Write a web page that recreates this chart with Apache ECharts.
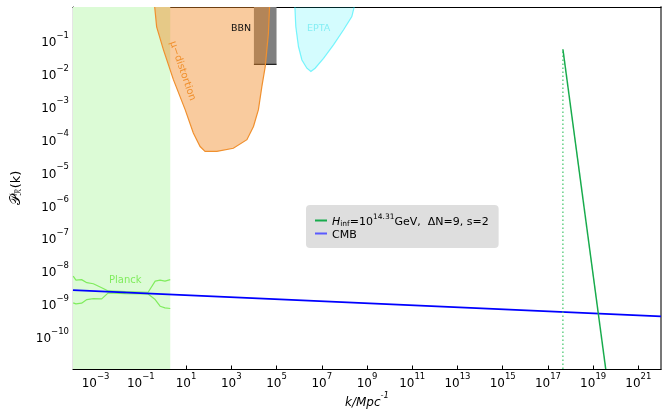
<!DOCTYPE html>
<html>
<head>
<meta charset="utf-8">
<script src="https://cdn.jsdelivr.net/npm/echarts@6/dist/echarts.min.js"></script>
<style>
  html, body { margin: 0; padding: 0; background: #fff; }
  #chart { width: 670px; height: 411px; }
</style>
</head>
<body>
<div id="chart"></div>
<script>
// tick positions (decades)
var xTicks = [1e-3, 1e-1, 1e1, 1e3, 1e5, 1e7, 1e9, 1e11, 1e13, 1e15, 1e17, 1e19, 1e21];
var yTicks = [1e-10, 1e-9, 1e-8, 1e-7, 1e-6, 1e-5, 1e-4, 1e-3, 1e-2, 1e-1];

// CMB power spectrum
var cmbK = [1e-4, 1e22];
var cmbP = [2.5e-9, 4.0e-10];

// model curve, H_inf = 10^14.31 GeV
var modelK = [4.6e17, 3.6e19];
var modelP = [0.052, 1e-11];
var cutK = [4.6e17, 4.6e17];
var cutP = [1e-11, 0.052];

// Planck band and contour lines
var planckBand = [1e-4, 2.0];
var planckK = [1.02e-4, 1.35e-4, 2.4e-4, 4.1e-4, 7.9e-4, 1.86e-3, 3.6e-3, 0.021, 0.21, 0.43, 0.71, 1.17, 2.0];
var planckUp = [6.6e-9, 5.0e-9, 5.2e-9, 4.2e-9, 3.9e-9, 2.95e-9, 2.35e-9, 2.25e-9, 2.15e-9, 4.7e-9, 5.0e-9, 4.7e-9, 5.2e-9];
var planckLo = [1.02e-9, 9.5e-10, 1.0e-9, 1.29e-9, 1.38e-9, 1.35e-9, 2.05e-9, 1.95e-9, 1.9e-9, 1.29e-9, 8.1e-10, 7.2e-10, 6.9e-10];

// mu-distortion region
var muK = [0.35, 0.5, 1.0, 2.75, 9.1, 20.9, 41.7, 69.2, 229, 1230, 4900, 9550, 15800, 22400, 31600, 43700, 52500];
var muP = [3.0, 0.25, 0.05, 6.2e-3, 7.6e-4, 1.48e-4, 5.75e-5, 4.1e-5, 4.1e-5, 5.1e-5, 9.3e-5, 2.34e-4, 7.6e-4, 3.8e-3, 0.0155, 0.158, 3.0];

// BBN bound
var bbnK = [1e4, 1e5];
var bbnP = [0.018, 3.0];

// EPTA region
var eptaK = [6.0e5, 7.1e5, 9.3e5, 1.32e6, 2.19e6, 3.3e6, 5.1e6, 1.2e7, 3.3e7, 9.1e7, 2.14e8, 4.0e8];
var eptaP = [3.0, 0.25, 0.063, 0.0245, 0.0138, 0.011, 0.0138, 0.0275, 0.0708, 0.2, 0.51, 3.0];

var chart = echarts.init(document.getElementById('chart'));

function supLabel(v) {
  var e = Math.round(Math.log10(v));
  return '{b|10}{s|' + (e < 0 ? '\u2212' + (-e) : e) + '}';
}

function polygon(xs, ys, style, z) {
  return {
    type: 'custom',
    coordinateSystem: 'cartesian2d',
    silent: true,
    clip: true,
    z: z,
    data: [[xs[0], ys[0]]],
    renderItem: function (params, api) {
      var pts = xs.map(function (x, i) { return api.coord([x, ys[i]]); });
      return { type: 'polygon', shape: { points: pts }, style: style };
    }
  };
}

function pairs(xs, ys) {
  return xs.map(function (x, i) { return [x, ys[i]]; });
}

var tickRich = {
  b: { fontSize: 12, fontFamily: 'DejaVu Sans', color: '#000', lineHeight: 18, verticalAlign: 'bottom' },
  s: { fontSize: 8.5, fontFamily: 'DejaVu Sans', color: '#000', lineHeight: 9, verticalAlign: 'top' }
};

var option = {
  animation: false,
  backgroundColor: '#fff',
  grid: { left: 73, right: 9, top: 7, bottom: 42, containLabel: false, outerBoundsMode: 'none' },
  legend: {
    left: 306,
    top: 205,
    orient: 'vertical',
    backgroundColor: 'rgba(214,214,214,0.8)',
    borderRadius: 4,
    padding: [8, 10, 7, 9],
    itemGap: 2,
    itemWidth: 12,
    itemHeight: 2,
    icon: 'rect',
    data: [
      { name: 'model', itemStyle: { color: '#17ab4c' } },
      { name: 'CMB', itemStyle: { color: '#5a5aff' } }
    ],
    formatter: function (name) {
      if (name === 'CMB') return '{t|CMB}';
      return '{i|H}{sub|inf}{t|=10}{sup|14.31}{t|GeV,  \u0394N=9, s=2}';
    },
    textStyle: {
      fontFamily: 'DejaVu Sans',
      rich: {
        t: { fontSize: 11, color: '#000', lineHeight: 15, verticalAlign: 'bottom' },
        i: { fontSize: 11, color: '#000', fontStyle: 'italic', lineHeight: 15, verticalAlign: 'bottom' },
        sub: { fontSize: 7.5, color: '#000', lineHeight: 8, verticalAlign: 'bottom' },
        sup: { fontSize: 7.5, color: '#000', lineHeight: 9, verticalAlign: 'top' }
      }
    }
  },
  xAxis: [{
    type: 'log',
    logBase: 10,
    min: 1e-4,
    max: 1e22,
    name: '{i|k/Mpc}{s|-1}',
    nameLocation: 'middle',
    nameGap: 22,
    nameMoveOverlap: false,
    nameTextStyle: {
      rich: {
        i: { fontSize: 12, fontStyle: 'italic', fontFamily: 'DejaVu Sans', color: '#000', lineHeight: 18, verticalAlign: 'bottom' },
        s: { fontSize: 8.5, fontStyle: 'italic', fontFamily: 'DejaVu Sans', color: '#000', lineHeight: 9, verticalAlign: 'top' }
      }
    },
    axisLine: { onZero: false, lineStyle: { color: '#000', width: 1.2 } },
    axisTick: { inside: true, length: 3.5, lineStyle: { color: '#000' }, customValues: xTicks },
    axisLabel: { margin: 3, formatter: supLabel, rich: tickRich, customValues: xTicks },
    minorTick: { show: false },
    splitLine: { show: false }
  }, {
    type: 'log',
    min: 1e-4,
    max: 1e22,
    position: 'top',
    axisLine: { lineStyle: { color: '#000', width: 1.2 } },
    axisTick: { show: false },
    axisLabel: { show: false },
    splitLine: { show: false }
  }],
  yAxis: [{
    type: 'log',
    logBase: 10,
    min: 1e-11,
    max: 1,
    name: '{p|\uD835\uDCAB}{r|\u211B}{t|(k)}',
    nameLocation: 'middle',
    nameRotate: 90,
    nameGap: 50,
    nameMoveOverlap: false,
    nameTextStyle: {
      rich: {
        p: { fontSize: 14, fontFamily: 'DejaVu Sans', color: '#000', lineHeight: 18, verticalAlign: 'bottom' },
        r: { fontSize: 9, fontFamily: 'DejaVu Sans', color: '#000', lineHeight: 8, verticalAlign: 'bottom' },
        t: { fontSize: 13, fontFamily: 'DejaVu Sans', color: '#000', lineHeight: 18, verticalAlign: 'bottom' }
      }
    },
    axisLine: { onZero: false, lineStyle: { color: '#000', width: 1.2 } },
    axisTick: { inside: true, length: 3.5, lineStyle: { color: '#000' }, customValues: yTicks },
    axisLabel: { margin: 4, formatter: supLabel, rich: tickRich, customValues: yTicks },
    minorTick: { show: false },
    splitLine: { show: false }
  }, {
    type: 'log',
    min: 1e-11,
    max: 1,
    position: 'right',
    axisLine: { lineStyle: { color: '#777', width: 2 } },
    axisTick: { show: false },
    axisLabel: { show: false },
    splitLine: { show: false }
  }],
  graphic: [
    { type: 'text', left: 109, top: 275, z: 100, silent: true,
      style: { text: 'Planck', fontSize: 10, fontFamily: 'DejaVu Sans', fill: '#80ec5e' } },
    { type: 'text', left: 231, top: 24, z: 100, silent: true,
      style: { text: 'BBN', fontSize: 9.5, fontFamily: 'DejaVu Sans', fill: '#111' } },
    { type: 'text', left: 307, top: 24, z: 100, silent: true,
      style: { text: 'EPTA', fontSize: 9.5, fontFamily: 'DejaVu Sans', fill: '#86eef4' } },
    { type: 'text', x: 182.5, y: 71, z: 100, rotation: -71 * Math.PI / 180, silent: true,
      style: { text: '\u03BC\u2212distortion', fontSize: 10, fontFamily: 'DejaVu Sans', fill: '#f0902e', align: 'center', verticalAlign: 'middle' } }
  ],
  series: [
    polygon([planckBand[0], planckBand[1], planckBand[1], planckBand[0]], [1e-12, 1e-12, 3, 3],
      { fill: '#dcfbd6' }, 1),
    polygon([bbnK[0], bbnK[1], bbnK[1], bbnK[0]], [bbnP[0], bbnP[0], bbnP[1], bbnP[1]],
      { fill: '#808080' }, 2),
    {
      type: 'line', silent: true, z: 3, symbol: 'none',
      data: pairs(bbnK, [bbnP[0], bbnP[0]]),
      lineStyle: { color: '#222', width: 1.4 }
    },
    polygon(muK, muP, { fill: 'rgba(242,140,40,0.45)', stroke: '#f0902e', lineWidth: 1.2 }, 4),
    polygon(eptaK, eptaP, { fill: 'rgba(0,235,250,0.17)', stroke: 'rgba(0,235,250,0.5)', lineWidth: 1.2 }, 4),
    {
      type: 'line', silent: true, z: 5, symbol: 'none',
      data: pairs(planckK, planckUp),
      lineStyle: { color: '#80ec5e', width: 1.2 }
    },
    {
      type: 'line', silent: true, z: 5, symbol: 'none',
      data: pairs(planckK, planckLo),
      lineStyle: { color: '#80ec5e', width: 1.2 }
    },
    {
      name: 'CMB', type: 'line', z: 6, symbol: 'none',
      data: pairs(cmbK, cmbP),
      lineStyle: { color: '#0000ff', width: 1.8 }
    },
    {
      type: 'line', silent: true, z: 6, symbol: 'none',
      data: pairs(cutK, cutP),
      lineStyle: { color: '#3cc468', width: 1.2, type: [1.5, 2.5] }
    },
    {
      name: 'model', type: 'line', z: 7, symbol: 'none',
      data: pairs(modelK, modelP),
      lineStyle: { color: '#17ab4c', width: 1.5 }
    }
  ]
};

chart.setOption(option);
</script>
</body>
</html>
